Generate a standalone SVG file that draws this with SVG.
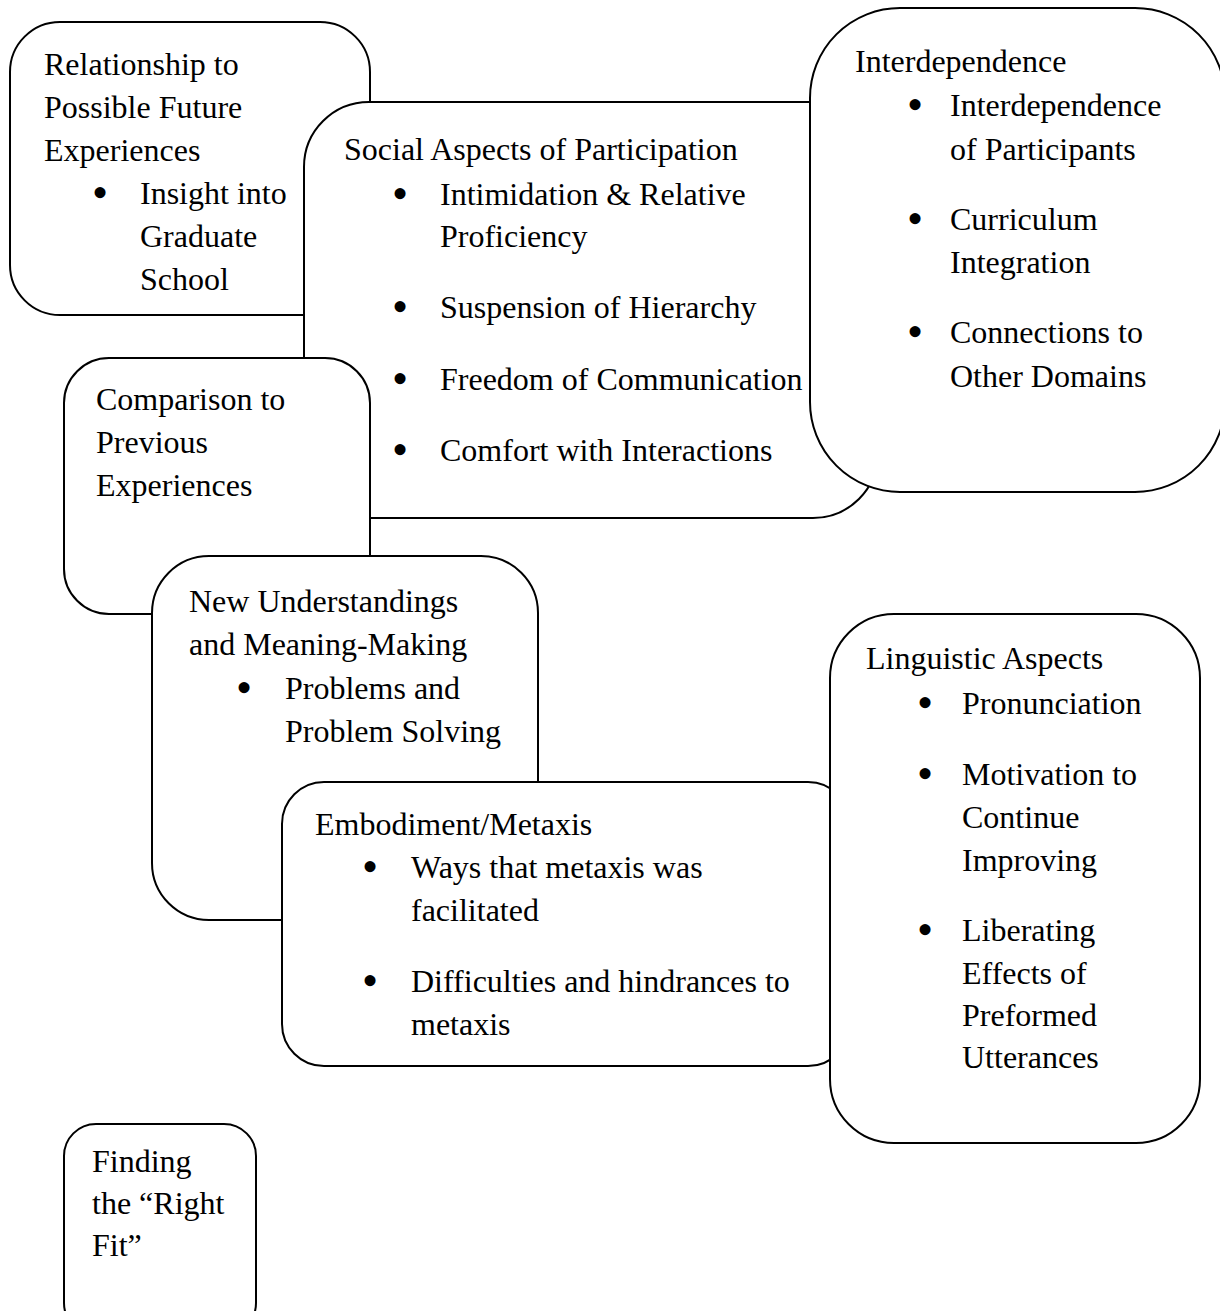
<svg xmlns="http://www.w3.org/2000/svg" width="1220" height="1311" viewBox="0 0 1220 1311">
<style>
.box{fill:#fff;stroke:#000;stroke-width:2}
text{font-family:"Liberation Serif","Times New Roman",serif;font-size:32px;fill:#000}
.b{text-anchor:middle;font-size:46px}
</style>
<rect x="0" y="0" width="1220" height="1311" fill="#fff"/>
<g id="connectors"></g>
<g id="relationship">
<rect class="box" x="10" y="22" width="360" height="293" rx="50" ry="50"/>
<text x="44" y="75">Relationship to</text>
<text x="44" y="118">Possible Future</text>
<text x="44" y="161">Experiences</text>
<text class="b" x="100" y="208">•</text>
<text x="140" y="204">Insight into</text>
<text x="140" y="247">Graduate</text>
<text x="140" y="290">School</text>
</g>
<g id="social">
<rect class="box" x="304" y="102" width="574" height="416" rx="65" ry="65"/>
<text x="344" y="160">Social Aspects of Participation</text>
<text class="b" x="400" y="209">•</text>
<text x="440" y="205">Intimidation &amp; Relative</text>
<text x="440" y="247">Proficiency</text>
<text class="b" x="400" y="322">•</text>
<text x="440" y="318">Suspension of Hierarchy</text>
<text class="b" x="400" y="394">•</text>
<text x="440" y="390">Freedom of Communication</text>
<text class="b" x="400" y="465">•</text>
<text x="440" y="461">Comfort with Interactions</text>
</g>
<g id="interdependence">
<rect class="box" x="810" y="8" width="415" height="484" rx="90" ry="90"/>
<text x="855" y="72">Interdependence</text>
<text class="b" x="915" y="120">•</text>
<text x="950" y="116">Interdependence</text>
<text x="950" y="160">of Participants</text>
<text class="b" x="915" y="234">•</text>
<text x="950" y="230">Curriculum</text>
<text x="950" y="273">Integration</text>
<text class="b" x="915" y="347">•</text>
<text x="950" y="343">Connections to</text>
<text x="950" y="387">Other Domains</text>
</g>
<g id="comparison">
<rect class="box" x="64" y="358" width="306" height="256" rx="45" ry="45"/>
<text x="96" y="410">Comparison to</text>
<text x="96" y="453">Previous</text>
<text x="96" y="496">Experiences</text>
</g>
<g id="new-understandings">
<rect class="box" x="152" y="556" width="386" height="364" rx="57" ry="57"/>
<text x="189" y="612">New Understandings</text>
<text x="189" y="655">and Meaning-Making</text>
<text class="b" x="244" y="703">•</text>
<text x="285" y="699">Problems and</text>
<text x="285" y="742">Problem Solving</text>
</g>
<g id="embodiment">
<rect class="box" x="282" y="782" width="568" height="284" rx="42" ry="42"/>
<text x="315" y="835">Embodiment/Metaxis</text>
<text class="b" x="370" y="882">•</text>
<text x="411" y="878">Ways that metaxis was</text>
<text x="411" y="921">facilitated</text>
<text class="b" x="370" y="996">•</text>
<text x="411" y="992">Difficulties and hindrances to</text>
<text x="411" y="1035">metaxis</text>
</g>
<g id="linguistic">
<rect class="box" x="830" y="614" width="370" height="529" rx="64" ry="64"/>
<text x="866" y="669">Linguistic Aspects</text>
<text class="b" x="925" y="718">•</text>
<text x="962" y="714">Pronunciation</text>
<text class="b" x="925" y="789">•</text>
<text x="962" y="785">Motivation to</text>
<text x="962" y="828">Continue</text>
<text x="962" y="871">Improving</text>
<text class="b" x="925" y="945">•</text>
<text x="962" y="941">Liberating</text>
<text x="962" y="984">Effects of</text>
<text x="962" y="1026">Preformed</text>
<text x="962" y="1068">Utterances</text>
</g>
<g id="finding">
<rect class="box" x="64" y="1124" width="192" height="211" rx="32" ry="32"/>
<text x="92" y="1172">Finding</text>
<text x="92" y="1214">the “Right</text>
<text x="92" y="1256">Fit”</text>
</g>
</svg>
